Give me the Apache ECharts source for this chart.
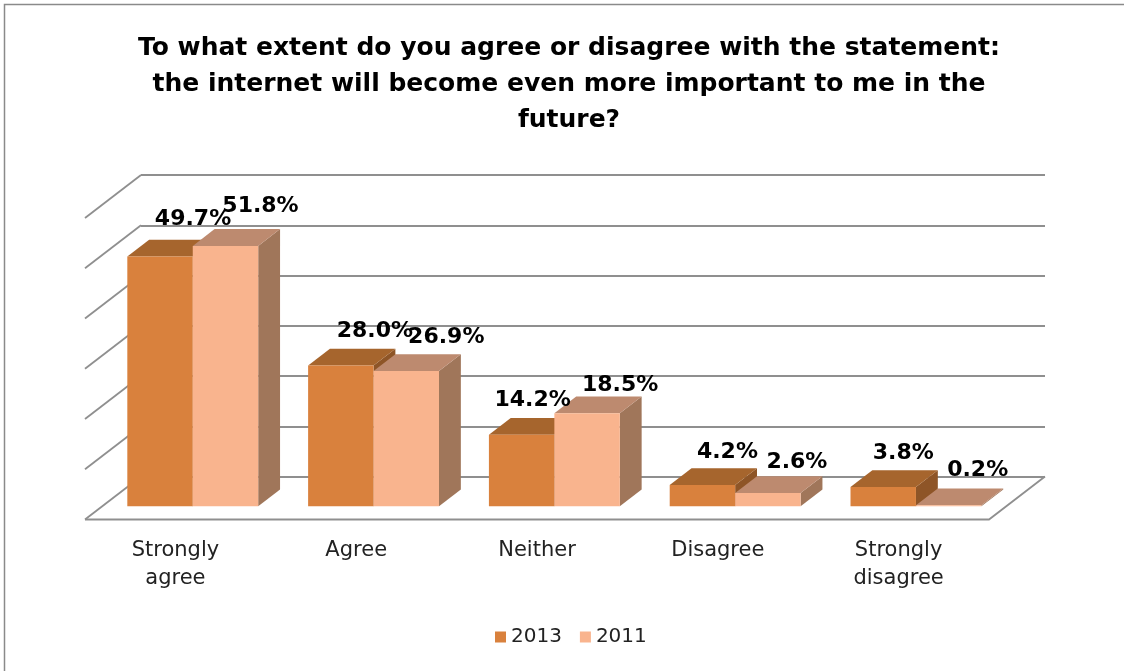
<!DOCTYPE html>
<html>
<head>
<meta charset="utf-8">
<script src="https://cdn.jsdelivr.net/npm/echarts@6/dist/echarts.min.js"></script>
<style>
  html, body { margin: 0; padding: 0; background: #ffffff; }
  #chart { width: 1124px; height: 671px; }
</style>
</head>
<body>
<div id="chart"></div>
<script>
// ---- data ----
const categories = ['Strongly\nagree', 'Agree', 'Neither', 'Disagree', 'Strongly\ndisagree'];
const seriesNames = ['2013', '2011'];
const values2013 = [49.7, 28.0, 14.2, 4.2, 3.8];
const values2011 = [51.8, 26.9, 18.5, 2.6, 0.2];
const yTicks = [0, 10, 20, 30, 40, 50, 60];

// ---- look ----
const FONT = 'DejaVu Sans';
const DEPTH_X = 56, DEPTH_Y = 43;        // floor depth: back wall -> front edge is (-DEPTH_X, +DEPTH_Y)
const BAR_FRONT = 0.69, BAR_BACK = 0.30; // bar faces, as a fraction of the depth from the back wall
const BAR_FRAC = 0.362;                  // width of one bar as a share of a category band
const GRID_COLOR = '#8f8f8f';
const GRID_WIDTH = 1.8;
const faceColors = [
  { front: '#D9813D', top: '#A6652D', side: '#8E5527' },
  { front: '#F9B48E', top: '#BD8A6F', side: '#A0765A' }
];
// per-label nudges, keeping neighbouring value labels apart
const labelNudge = [
  [[3, -3], [4, 0], [-19, -1], [-5, 1], [-10, 0]],
  [[5, -6], [10, 0], [3, 6], [-1, 3], [-1, -1]]
];
const LABEL_DX = 30, LABEL_DY = -34;

function toFront(p, frac) {
  return [p[0] - DEPTH_X * frac, p[1] + DEPTH_Y * frac];
}

function barRenderer(s) {
  return function (params, api) {
    const cat = api.value(0), v = api.value(1);
    const base = api.coord([cat, 0]);
    const topP = api.coord([cat, v]);
    const band = api.size([1, 0])[0];
    const w = band * BAR_FRAC;
    const left = base[0] + (s === 0 ? -w : 0);
    const right = left + w;
    const yb = base[1], yt = topP[1];
    const F = (x, y) => toFront([x, y], BAR_FRONT);
    const B = (x, y) => toFront([x, y], BAR_BACK);
    const c = faceColors[s];
    return {
      type: 'group',
      children: [
        { type: 'polygon', shape: { points: [F(right, yb), B(right, yb), B(right, yt), F(right, yt)] },
          style: { fill: c.side } },
        { type: 'polygon', shape: { points: [F(left, yt), F(right, yt), B(right, yt), B(left, yt)] },
          style: { fill: c.top } },
        { type: 'polygon', shape: { points: [F(left, yb), F(right, yb), F(right, yt), F(left, yt)] },
          style: { fill: c.front } }
      ]
    };
  };
}

function labelRenderer(params, api) {
  const cat = api.value(0), v = api.value(1), s = api.value(2);
  const base = api.coord([cat, 0]);
  const topP = api.coord([cat, v]);
  const band = api.size([1, 0])[0];
  const w = band * BAR_FRAC;
  const cx = base[0] + (s === 0 ? -w / 2 : w / 2);
  const p = toFront([cx, topP[1]], BAR_FRONT);
  const n = labelNudge[s][cat];
  return {
    type: 'text',
    x: p[0] + LABEL_DX + n[0],
    y: p[1] + LABEL_DY + n[1],
    style: {
      text: v.toFixed(1) + '%',
      fill: '#000',
      font: 'bold 22px "' + FONT + '"',
      align: 'center',
      verticalAlign: 'middle'
    }
  };
}

function wallRenderer(params, api) {
  const v = api.value(0);
  const cs = params.coordSys;
  const p = api.coord([0, v]);
  const x0 = cs.x, x1 = cs.x + cs.width;
  const line = { stroke: GRID_COLOR, lineWidth: GRID_WIDTH, fill: 'none' };
  const children = [
    { type: 'line', shape: { x1: x0, y1: p[1], x2: x0 - DEPTH_X, y2: p[1] + DEPTH_Y }, style: line }
  ];
  if (v === 0) {
    children.push({
      type: 'polyline',
      shape: { points: [[x0 - DEPTH_X, p[1] + DEPTH_Y], [x1 - DEPTH_X, p[1] + DEPTH_Y], [x1, p[1]]] },
      style: line
    });
  }
  return { type: 'group', children: children };
}

const labelData = [];
[values2013, values2011].forEach((arr, s) => arr.forEach((v, i) => labelData.push([i, v, s])));

const chart = echarts.init(document.getElementById('chart'), null, { renderer: 'canvas' });
chart.setOption({
  animation: false,
  backgroundColor: '#ffffff',
  textStyle: { fontFamily: FONT },
  title: {
    text: 'To what extent do you agree or disagree with the statement:\nthe internet will become even more important to me in the\nfuture?',
    left: 569,
    top: 30,
    padding: 0,
    textAlign: 'center',
    textStyle: { fontFamily: FONT, fontSize: 25, fontWeight: 'bold', lineHeight: 36, color: '#000' }
  },
  legend: {
    data: seriesNames,
    left: 490,
    top: 622,
    icon: 'rect',
    itemWidth: 11,
    itemHeight: 11,
    itemGap: 18,
    textStyle: { fontFamily: FONT, fontSize: 20, color: '#222' }
  },
  graphic: [{
    type: 'rect',
    shape: { x: 4.5, y: 4.5, width: 1300, height: 800 },
    style: { fill: 'none', stroke: '#8a8a8a', lineWidth: 1.5 },
    silent: true
  }],
  grid: [
    { left: 141, top: 175, width: 904, height: 301.5 },
    { left: 85, top: 218, width: 904, height: 301.5 }
  ],
  xAxis: [
    { gridIndex: 0, type: 'category', data: categories,
      axisLine: { show: false }, axisTick: { show: false }, axisLabel: { show: false } },
    { gridIndex: 1, type: 'category', data: categories,
      axisLine: { show: false }, axisTick: { show: false },
      axisLabel: { fontFamily: FONT, fontSize: 21, lineHeight: 28, color: '#222', margin: 17, interval: 0 } }
  ],
  yAxis: [
    { gridIndex: 0, type: 'value', min: 0, max: 60, interval: 10,
      axisLine: { show: false }, axisTick: { show: false }, axisLabel: { show: false },
      splitLine: { show: true, lineStyle: { color: GRID_COLOR, width: GRID_WIDTH } } },
    { gridIndex: 1, type: 'value', min: 0, max: 60, interval: 10, show: false,
      splitLine: { show: false } }
  ],
  series: [
    { type: 'custom', name: 'walls', xAxisIndex: 0, yAxisIndex: 0, z: 1, silent: true,
      renderItem: wallRenderer, data: yTicks.map(v => [v]) },
    { type: 'custom', name: seriesNames[0], xAxisIndex: 0, yAxisIndex: 0, z: 2,
      itemStyle: { color: faceColors[0].front },
      renderItem: barRenderer(0), data: values2013.map((v, i) => [i, v]) },
    { type: 'custom', name: seriesNames[1], xAxisIndex: 0, yAxisIndex: 0, z: 3,
      itemStyle: { color: faceColors[1].front },
      renderItem: barRenderer(1), data: values2011.map((v, i) => [i, v]) },
    { type: 'custom', name: 'values', xAxisIndex: 0, yAxisIndex: 0, z: 10, silent: true,
      renderItem: labelRenderer, data: labelData }
  ]
});
</script>
</body>
</html>
